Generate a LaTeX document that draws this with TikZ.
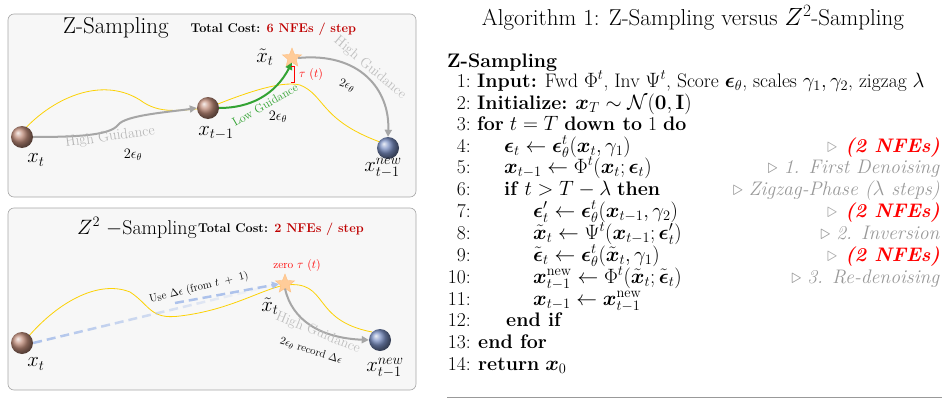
\documentclass[tikz,border=0pt]{standalone}
\usepackage{amsmath,amssymb}
\usetikzlibrary{shapes.geometric,arrows.meta,fadings}
\newcommand{\bx}{\boldsymbol{x}}
\newcommand{\be}{\boldsymbol{\epsilon}}
\definecolor{bballc}{rgb}{0.75,0.55,0.48}
\definecolor{blballc}{rgb}{0.48,0.56,0.76}
\definecolor{dashc}{rgb}{0.68,0.76,0.92}
\tikzset{
 panel/.style={draw=gray!70,rounded corners=6pt,fill=gray!6,line width=0.6pt},
 brownball/.style={circle,minimum size=22pt,inner sep=0pt,ball color=bballc},
 blueball/.style={circle,minimum size=22pt,inner sep=0pt,ball color=blballc},
 starn/.style={star,star points=5,star point ratio=2.3,minimum size=20pt,inner sep=0pt,fill=orange!40,draw=orange!50},
 yline/.style={draw=yellow!70!orange,line width=0.8pt},
 garrow/.style={draw=gray!70,line width=2pt,-{Triangle[length=7pt,width=7pt]}},
 lbl/.style={font=\fontsize{20}{20}\selectfont},
 alg/.style={anchor=base west,inner sep=0pt,font=\fontsize{19.6}{21}\selectfont},
 num/.style={anchor=base east,inner sep=0pt,font=\fontsize{19.6}{21}\selectfont},
 cmt/.style={anchor=base east,inner sep=0pt,font=\fontsize{19.6}{21}\selectfont,text=gray!80},
 cred/.style={anchor=base east,inner sep=0pt,font=\fontsize{19.6}{21}\selectfont\bfseries\itshape,text=red},
}
\begin{document}
\begin{tikzpicture}[x=1pt,y=-1pt]
\useasboundingbox (0,0) rectangle (948,415);
% ---------- top panel
\draw[panel] (8,14) rectangle (416,197);
\node[font=\fontsize{23}{23}\selectfont] (t1) at (116,28) {Z-Sampling};
\node[font=\fontsize{12.7}{13}\selectfont\bfseries,anchor=west] (c1) at (187,29) {Total Cost: \textcolor{red!75!black}{6 NFEs / step}};
\draw[yline] (22,132) .. controls (50,100) and (100,75) .. (140,100) .. controls (160,115) and (180,110) .. (208,108)
  .. controls (240,95) and (280,80) .. (300,85) .. controls (325,95) and (320,120) .. (380,142);
\node[brownball] (a) at (22,137) {};
\node[brownball] (b) at (208,108) {};
\node[blueball] (c) at (388,148) {};
\node[starn] (s) at (292,58) {};
\draw[garrow] (a.east) .. controls (80,137) and (110,135) .. (118,125) .. controls (125,115) and (170,112) .. (b.west);
\draw[draw=green!55!black!80,line width=2pt,-{Triangle[length=7pt,width=7pt]}] (b.east) .. controls (250,108) and (275,95) .. (s.south);
\draw[garrow] (s.east) .. controls (360,52) and (390,90) .. (c.north);
\draw[red,line width=0.7pt] (291,66) -- (294,66) -- (294,82) -- (291,82);
\node[text=red,font=\fontsize{12}{12}\selectfont] (tau) at (311,74) {$\tau\ (t)$};
\node[lbl] (l1) at (36,160) {$x_t$};
\node[lbl] (l2) at (216,133) {$x_{t-1}$};
\node[lbl] (l3) at (265,57) {$\tilde{x}_t$};
\node[lbl] (l4) at (383,168) {$x^{new}_{t-1}$};
\node[text=gray!60,rotate=8,font=\fontsize{15}{15}\selectfont] (hg1) at (110,137) {High Guidance};
\node[font=\fontsize{14}{14}\selectfont] (e1) at (133,155) {$2\epsilon_\theta$};
\node[text=green!55!black!80,rotate=30,font=\fontsize{12}{12}\selectfont] (lg) at (265,105) {Low Guidance};
\node[font=\fontsize{14}{14}\selectfont] (e2) at (278,117) {$2\epsilon_\theta$};
\node[text=gray!50,rotate=-40,font=\fontsize{14}{14}\selectfont] (hg2) at (370,68) {High Guidance};
\node[font=\fontsize{13}{13}\selectfont,rotate=-20] (e3) at (347,86) {$2\epsilon_\theta$};
% ---------- bottom panel
\draw[panel] (8,208) rectangle (416,390);
\node[font=\fontsize{20}{20}\selectfont,anchor=east,inner sep=0pt] (t2) at (197,228) {$Z^2$ $-$Sampling};
\node[font=\fontsize{12.7}{13}\selectfont\bfseries,anchor=west,inner sep=0pt] (c2) at (198,229) {Total Cost: \textcolor{red!75!black}{2 NFEs / step}};
\draw[yline] (28,337) .. controls (60,300) and (100,280) .. (130,292) .. controls (150,305) and (150,320) .. (180,316)
  .. controls (230,310) and (260,290) .. (285,285) .. controls (330,280) and (310,320) .. (372,332);
\node[brownball] (d) at (22,343) {};
\node[blueball] (f) at (380,340) {};
\node[starn] (s2) at (285,284) {};
\path[draw=dashc,line width=2.5pt,dash pattern=on 9pt off 5pt,-{Triangle[length=7pt,width=7pt]},path fading=east] (d.east) -- (s2.west);
\draw[draw=dashc,line width=2.5pt,dash pattern=on 9pt off 5pt,-{Triangle[length=7pt,width=7pt]}] (175,303) -- (s2.west);
\draw[garrow] (s2.south) .. controls (292,320) and (320,338) .. (f.west);
\node[text=red,font=\fontsize{11.5}{12}\selectfont] (z) at (297,265) {zero $\tau\ (t)$};
\node[lbl] (m1) at (36,364) {$x_t$};
\node[lbl] (m2) at (270,306) {$\tilde{x}_t$};
\node[lbl] (m3) at (385,368) {$x^{new}_{t-1}$};
\node[rotate=14,font=\fontsize{11}{11}\selectfont] (ud) at (199,288) {Use $\Delta\epsilon$ (from $t\ +\ 1$)};
\node[text=gray!50,rotate=-22,font=\fontsize{14}{14}\selectfont] (hg3) at (318,333) {High Guidance};
\node[rotate=-18,font=\fontsize{11}{11}\selectfont] (rd) at (311,351) {$2\epsilon_\theta$ record $\Delta\epsilon$};
% ---------- algorithm
\node[font=\fontsize{23}{23}\selectfont] (at) at (693,18) {Algorithm 1: Z-Sampling versus $Z^2$-Sampling};
\node[alg,font=\fontsize{19.6}{21}\selectfont\bfseries] (zs) at (447,67) {Z-Sampling};
\foreach \n/\y in {1/87,2/109,3/130,4/152,5/173,6/195,7/217,8/239,9/261,10/283,11/305,12/326,13/348,14/370}{
 \node[num] (n\n) at (471,\y) {\n:};}
\node[alg] (r1) at (477,87) {\textbf{Input:} Fwd $\Phi^t$, Inv $\Psi^t$, Score $\be_\theta$, scales $\gamma_1,\gamma_2$, zigzag $\lambda$};
\node[alg] (r2) at (477,109) {\textbf{Initialize:} $\bx_T\sim\mathcal{N}(\mathbf{0},\mathbf{I})$};
\node[alg] (r3) at (477,130) {\textbf{for} $t=T$ \textbf{down to} 1 \textbf{do}};
\node[alg] (r4) at (504,152) {$\be_t\leftarrow\be^t_\theta(\bx_t,\gamma_1)$};
\node[alg] (r5) at (504,173) {$\bx_{t-1}\leftarrow\Phi^t(\bx_t;\be_t)$};
\node[alg] (r6) at (504,195) {\textbf{if} $t>T-\lambda$ \textbf{then}};
\node[alg] (r7) at (533,217) {$\be'_t\leftarrow\be^t_\theta(\bx_{t-1},\gamma_2)$};
\node[alg] (r8) at (533,239) {$\tilde{\bx}_t\leftarrow\Psi^t(\bx_{t-1};\be'_t)$};
\node[alg] (r9) at (533,261) {$\tilde{\be}_t\leftarrow\be^t_\theta(\tilde{\bx}_t,\gamma_1)$};
\node[alg] (r10) at (533,283) {$\bx^{\mathrm{new}}_{t-1}\leftarrow\Phi^t(\tilde{\bx}_t;\tilde{\be}_t)$};
\node[alg] (r11) at (533,305) {$\bx_{t-1}\leftarrow\bx^{\mathrm{new}}_{t-1}$};
\node[alg] (r12) at (506,326) {\textbf{end if}};
\node[alg] (r13) at (478,348) {\textbf{end for}};
\node[alg] (r14) at (478,370) {\textbf{return} $\bx_0$};
\node[cred] (k4) at (940,152) {\textcolor{gray!70}{\normalfont$\triangleright$} (2 NFEs)};
\node[cmt] (k5) at (940,173) {$\triangleright$ \textit{1. First Denoising}};
\node[cmt] (k6) at (940,195) {$\triangleright$ \textit{Zigzag-Phase ($\lambda$ steps)}};
\node[cred] (k7) at (940,217) {\textcolor{gray!70}{\normalfont$\triangleright$} (2 NFEs)};
\node[cmt] (k8) at (940,239) {$\triangleright$ \textit{2. Inversion}};
\node[cred] (k9) at (940,261) {\textcolor{gray!70}{\normalfont$\triangleright$} (2 NFEs)};
\node[cmt] (k10) at (940,283) {$\triangleright$ \textit{3. Re-denoising}};
\draw[gray!80,line width=0.8pt] (447,397) coordinate (ra) -- (942,397) coordinate (rb);
\end{tikzpicture}
\end{document}
